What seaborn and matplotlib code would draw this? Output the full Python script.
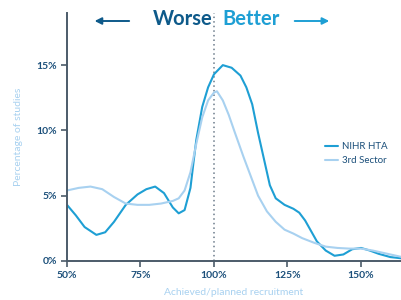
import pandas as pd
import matplotlib
matplotlib.use("Agg")
import matplotlib.pyplot as plt
import seaborn as sns

# values (x = achieved/planned %, y = % of studies)
hta_x = [50, 53, 56, 60, 63, 66, 70, 74, 77, 80, 83, 86, 88, 90, 92, 93, 94, 96, 98,
         100, 103, 106, 109, 111, 113, 115, 117, 119, 121, 124, 127, 129, 131, 133,
         135, 138, 141, 144, 147, 150, 153, 156, 160, 164]
hta_y = [4.3, 3.5, 2.6, 2.0, 2.2, 3.0, 4.3, 5.1, 5.5, 5.7, 5.2, 4.1, 3.65, 3.9, 5.6, 7.5, 9.3, 11.8, 13.3,
         14.3, 15.0, 14.8, 14.2, 13.3, 12.0, 9.8, 7.8, 5.8, 4.8, 4.3, 4.0, 3.7, 3.1, 2.3,
         1.5, 0.8, 0.4, 0.5, 0.9, 1.0, 0.8, 0.55, 0.3, 0.2]

third_x = [50, 54, 58, 62, 66, 70, 74, 78, 82, 86, 88, 90, 92, 94, 96, 98, 100, 101,
           103, 105, 107, 110, 112, 115, 118, 121, 124, 127, 130, 134, 138, 142, 146,
           150, 154, 158, 164]
third_y = [5.4, 5.6, 5.7, 5.5, 4.9, 4.4, 4.3, 4.3, 4.4, 4.6, 4.8, 5.4, 6.8, 9.0, 11.0, 12.3, 12.9, 13.0,
           12.3, 11.2, 9.9, 8.0, 6.8, 5.0, 3.8, 3.0, 2.4, 2.1, 1.75, 1.4, 1.1, 1.0, 0.95,
           0.95, 0.8, 0.6, 0.3]

series = ["NIHR HTA", "3rd Sector"]
x_ticks = [50, 75, 100, 125, 150]
y_ticks = [0, 5, 10, 15]

dark = "#1b4f7a"
spine = "#4c5b69"
mid_blue = "#1e9fd4"
light_blue = "#a8d1f0"

df = pd.concat([
    pd.DataFrame({"x": hta_x, "y": hta_y, "series": series[0]}),
    pd.DataFrame({"x": third_x, "y": third_y, "series": series[1]}),
])

sns.set_style("ticks")
plt.rcParams["font.family"] = ["Lato", "DejaVu Sans"]

fig = plt.figure(figsize=(4.01, 3.0), dpi=100)
ax = fig.add_axes([0.167, 0.13, 0.833, 0.827])

sns.lineplot(data=df, x="x", y="y", hue="series", hue_order=series,
             palette=[mid_blue, light_blue], linewidth=1.5, ax=ax, sort=False)

ax.axvline(100, color="#6b7b8a", linestyle=(0, (1, 2)), linewidth=1.1, zorder=0)

ax.set_xlim(50, 163.6)
ax.set_ylim(0, 19)
ax.set_xticks(x_ticks)
ax.set_xticklabels([f"{t}%" for t in x_ticks])
ax.set_yticks(y_ticks)
ax.set_yticklabels([f"{t}%" for t in y_ticks])
ax.tick_params(length=4, width=1.2, color=spine, labelcolor=dark, labelsize=7.5, pad=3)
for lab in ax.get_xticklabels() + ax.get_yticklabels():
    lab.set_fontweight("bold")

for side in ["top", "right"]:
    ax.spines[side].set_visible(False)
for side in ["left", "bottom"]:
    ax.spines[side].set_color(spine)
    ax.spines[side].set_linewidth(1.4)

ax.set_xlabel("Achieved/planned recruitment", color=light_blue, fontsize=7.5, labelpad=6)
ax.set_ylabel("Percentage of studies", color=light_blue, fontsize=7.5, labelpad=10)

leg = ax.legend(loc="upper left", bbox_to_anchor=(0.76, 0.495), frameon=False,
                fontsize=7, handlelength=1.4, handletextpad=0.4, labelspacing=0.5,
                borderaxespad=0)
for t in leg.get_texts():
    t.set_color(dark)

# header: Worse / Better with arrows
fig.text(0.529, 0.937, "Worse", ha="right", va="center", fontsize=14.5,
         fontweight="bold", color="#0e5a8a")
fig.text(0.554, 0.937, "Better", ha="left", va="center", fontsize=14.5,
         fontweight="bold", color=mid_blue)
fig.add_artist(matplotlib.patches.FancyArrowPatch(
    (0.329, 0.93), (0.229, 0.93), transform=fig.transFigure,
    arrowstyle="-|>,head_length=4,head_width=2", color="#0e5a8a", linewidth=1.4))
fig.add_artist(matplotlib.patches.FancyArrowPatch(
    (0.728, 0.93), (0.828, 0.93), transform=fig.transFigure,
    arrowstyle="-|>,head_length=4,head_width=2", color=mid_blue, linewidth=1.4))

fig.savefig("out.png", dpi=100)
